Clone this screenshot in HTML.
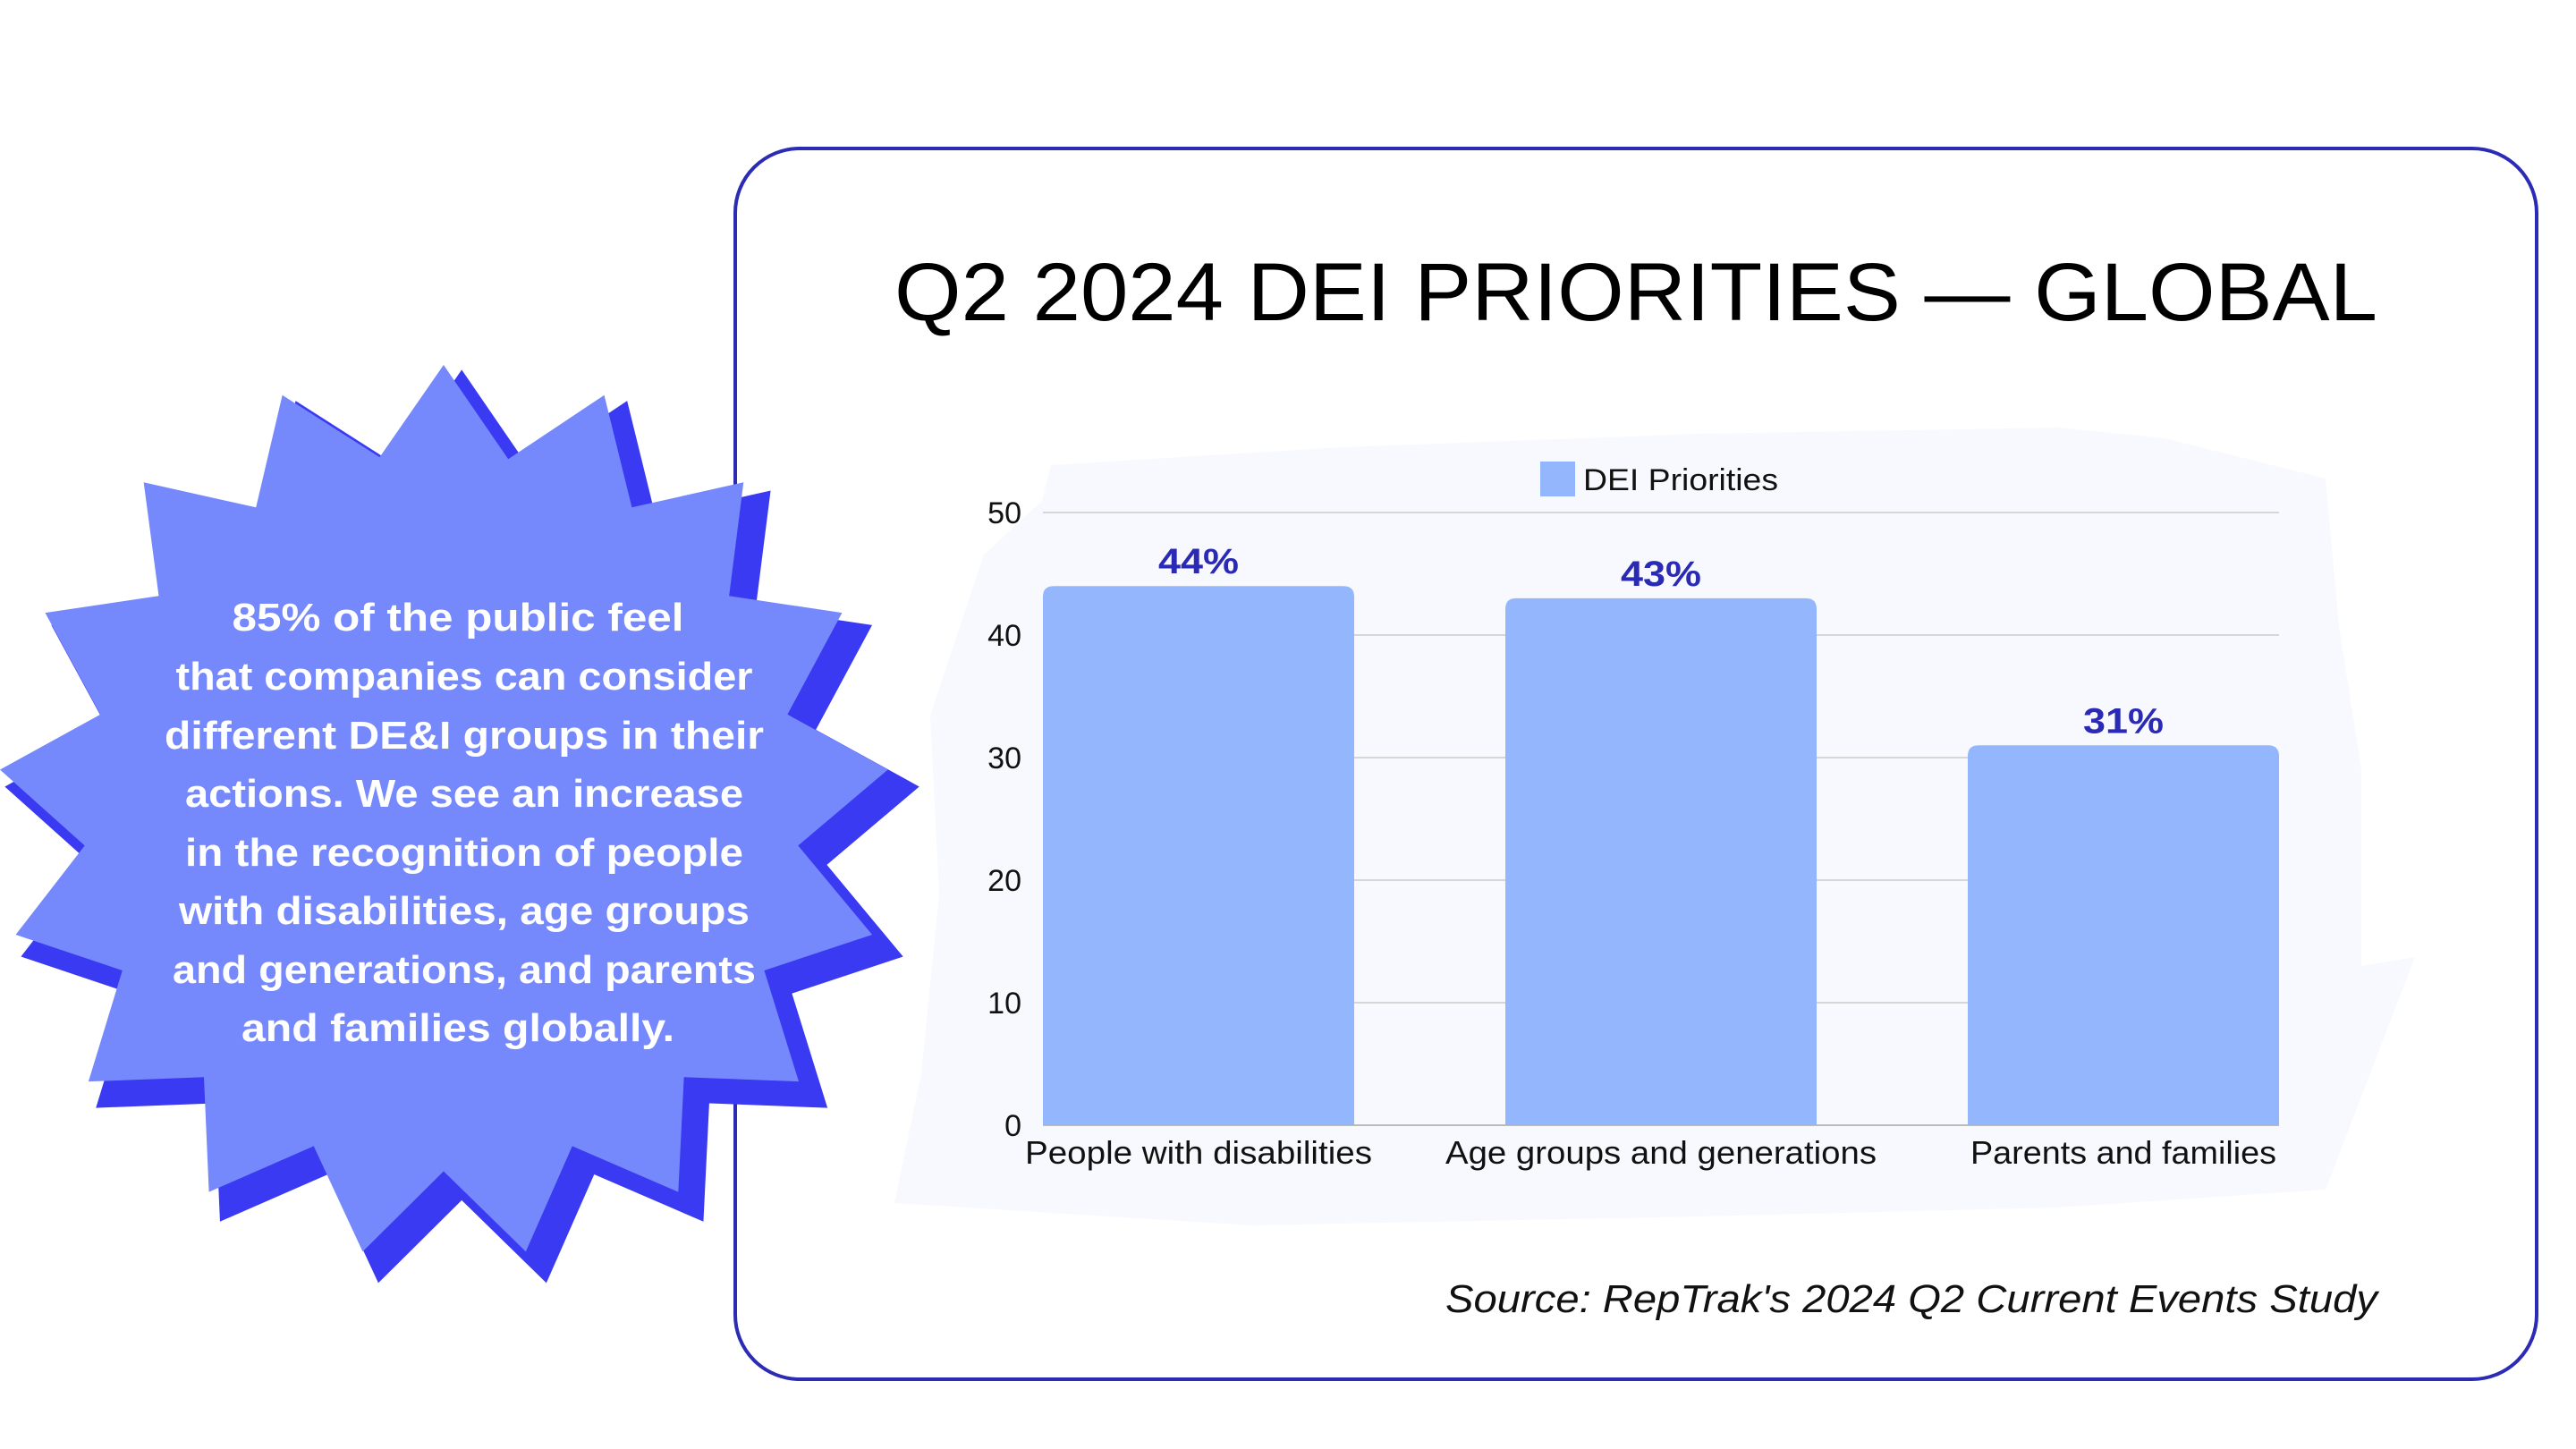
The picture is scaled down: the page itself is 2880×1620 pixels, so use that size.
<!DOCTYPE html>
<html><head><meta charset="utf-8"><style>
html,body{margin:0;padding:0;background:#fff;}
svg{display:block;font-family:"Liberation Sans",sans-serif;}
</style></head><body>
<svg width="2880" height="1620" viewBox="0 0 2880 1620">
  <rect x="0" y="0" width="2880" height="1620" fill="#ffffff"/>
  <rect x="822" y="166" width="2014" height="1376" rx="72" ry="72" fill="#ffffff" stroke="#2b2bb5" stroke-width="4"/>
  <text x="1000" y="358" font-size="92" fill="#000" textLength="1658" lengthAdjust="spacingAndGlyphs">Q2 2024 DEI PRIORITIES — GLOBAL</text>
  <path d="M1175 520 L1500 500 L1900 485 L2300 478 L2420 490 L2600 535 L2615 700 L2640 860 L2640 1080 L2700 1070 L2650 1200 L2600 1330 L2300 1350 L1900 1360 L1400 1370 L1000 1345 L1030 1200 L1050 1000 L1040 800 L1100 620 L1165 560 Z" fill="#f8f9fe"/>
  <g id="chart"></g>
  <text x="2658" y="1467" font-size="44" font-style="italic" fill="#111" text-anchor="end" textLength="1042" lengthAdjust="spacingAndGlyphs">Source: RepTrak's 2024 Q2 Current Events Study</text>

  <g transform="translate(0,380) scale(0.7015)">
    <polygon transform="translate(707,746) scale(1.03) translate(-707,-746) translate(28,28)" fill="#3a3af2"
      points="707,40 810,190 963,88 1007,267 1185,227 1162,408 1342,435 1255,597 1415,685 1272,806 1390,948 1218,1005 1273,1182 1090,1175 1081,1358 912,1285 838,1453 707,1325 578,1453 500,1285 333,1358 325,1175 141,1182 195,1005 25,948 135,806 0,685 160,597 72,435 253,408 229,227 408,267 450,88 605,187"/>
    <polygon fill="#7689fc"
      points="707,40 810,190 963,88 1007,267 1185,227 1162,408 1342,435 1255,597 1415,685 1272,806 1390,948 1218,1005 1273,1182 1090,1175 1081,1358 912,1285 838,1453 707,1325 578,1453 500,1285 333,1358 325,1175 141,1182 195,1005 25,948 135,806 0,685 160,597 72,435 253,408 229,227 408,267 450,88 605,187"/>
  </g>
  <g font-size="44" font-weight="bold" fill="#ffffff" text-anchor="middle">
    <text x="512" y="705" textLength="505" lengthAdjust="spacingAndGlyphs">85% of the public feel</text>
    <text x="519" y="771" textLength="645" lengthAdjust="spacingAndGlyphs">that companies can consider</text>
    <text x="519" y="837" textLength="670" lengthAdjust="spacingAndGlyphs">different DE&amp;I groups in their</text>
    <text x="519" y="902" textLength="624" lengthAdjust="spacingAndGlyphs">actions. We see an increase</text>
    <text x="519" y="968" textLength="624" lengthAdjust="spacingAndGlyphs">in the recognition of people</text>
    <text x="519" y="1033" textLength="638" lengthAdjust="spacingAndGlyphs">with disabilities, age groups</text>
    <text x="519" y="1099" textLength="652" lengthAdjust="spacingAndGlyphs">and generations, and parents</text>
    <text x="512" y="1164" textLength="484" lengthAdjust="spacingAndGlyphs">and families globally.</text>
  </g>
</svg>
<script>
const categories = ["People with disabilities", "Age groups and generations", "Parents and families"];
const values = [44, 43, 31];
const valueLabels = ["44%", "43%", "31%"];
const yTicks = [0, 10, 20, 30, 40, 50];
const seriesName = "DEI Priorities";

const NS = "http://www.w3.org/2000/svg";
const g = document.getElementById("chart");
const L = 1166, R = 2548, T = 573, B = 1258, yMax = 50;
const y = v => B - (v / yMax) * (B - T);
const barW = 348, gap = (R - L - 3 * barW) / 2;
const x = i => L + i * (barW + gap);
const labelWidthsPx = [388, 482, 342];
function mk(tag, attrs, text) {
  const e = document.createElementNS(NS, tag);
  for (const k in attrs) e.setAttribute(k, attrs[k]);
  if (text !== undefined) e.textContent = text;
  g.appendChild(e);
  return e;
}
yTicks.forEach(t => {
  const ln = mk("line", {x1: L, x2: R, y1: y(t), y2: y(t), stroke: t === 0 ? "#bbbbbb" : "#d6d6d6", "stroke-width": 2});
  
  
  const tx = mk("text", {x: 1142, y: y(t) + 12, "font-size": 34, fill: "#111", "text-anchor": "end"}, String(t));
  
  
});
values.forEach((v, i) => {
  const top = y(v), r = 12;
  const d = `M${x(i)} ${B} L${x(i)} ${top + r} Q${x(i)} ${top} ${x(i) + r} ${top} L${x(i) + barW - r} ${top} Q${x(i) + barW} ${top} ${x(i) + barW} ${top + r} L${x(i) + barW} ${B} Z`;
  const b = mk("path", {d: d, fill: "#94b6fd"});
  
  
  const vl = mk("text", {x: x(i) + barW / 2, y: top - 14, "font-size": 40, "font-weight": "bold", fill: "#2a2ab5", "text-anchor": "middle", textLength: 90, lengthAdjust: "spacingAndGlyphs"}, valueLabels[i]);
  
  
  const cl = mk("text", {x: x(i) + barW / 2, y: 1301, "font-size": 36, fill: "#111", "text-anchor": "middle", textLength: labelWidthsPx[i] || 380, lengthAdjust: "spacingAndGlyphs"}, categories[i]);
  
  
});
const sw = mk("rect", {x: 1722, y: 516, width: 39, height: 39, fill: "#94b6fd"});


const lt = mk("text", {x: 1770, y: 548, "font-size": 34, fill: "#111", textLength: 218, lengthAdjust: "spacingAndGlyphs"}, seriesName);


</script>
</body></html>
